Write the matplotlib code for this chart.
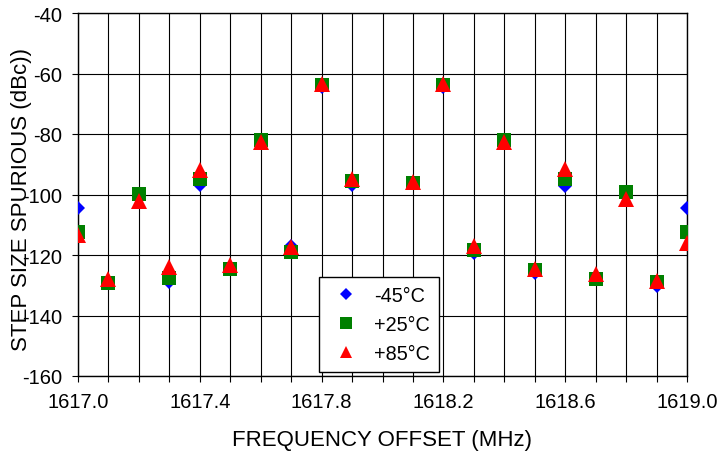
import matplotlib
matplotlib.use("Agg")
import matplotlib.pyplot as plt
from matplotlib.ticker import FixedLocator, MultipleLocator, FormatStrFormatter

plt.rcParams['font.family'] = ['Liberation Sans', 'DejaVu Sans']
plt.rcParams['axes.unicode_minus'] = False

freq = [1617.0, 1617.1, 1617.2, 1617.3, 1617.4, 1617.5, 1617.6, 1617.7, 1617.8, 1617.9,
        1618.1, 1618.2, 1618.3, 1618.4, 1618.5, 1618.6, 1618.7, 1618.8, 1618.9, 1619.0]
t_m45 = [-104.5, -129.0, -100.0, -129.0, -97.0, -124.5, -82.0, -117.0, -64.5, -97.0,
         -96.2, -64.5, -119.4, -82.0, -126.0, -97.2, -128.0, -99.3, -130.3, -104.5]
t_p25 = [-112.5, -129.3, -99.8, -127.6, -95.0, -124.6, -82.0, -119.0, -63.7, -95.5,
         -96.2, -63.7, -118.2, -81.9, -124.9, -94.9, -128.0, -99.3, -129.0, -112.5]
t_p85 = [-113.3, -128.0, -102.0, -124.0, -92.0, -123.3, -82.5, -117.5, -63.5, -95.0,
         -95.8, -63.5, -117.0, -82.5, -124.5, -91.6, -126.3, -101.5, -128.6, -116.0]
labels = ['-45°C', '+25°C', '+85°C']
xticks = [1617.0, 1617.4, 1617.8, 1618.2, 1618.6, 1619.0]

fig = plt.figure(figsize=(7.18, 4.52), dpi=100)
ax = fig.add_axes([78/718, 1-377/452, (687-78)/718, (377-14)/452])

ax.plot(freq, t_m45, linestyle='none', marker='D', ms=7.4, color='#0000FF', mew=0, label=labels[0], zorder=3)
ax.plot(freq, t_p25, linestyle='none', marker='s', ms=10.6, color='#008000', mew=0, label=labels[1], zorder=4)
ax.plot(freq, t_p85, linestyle='none', marker='^', ms=11.0, color='#FF0000', mew=0, label=labels[2], zorder=5)

ax.set_xlim(1617.0, 1619.0)
ax.set_ylim(-160, -40)
ax.xaxis.set_major_locator(FixedLocator(xticks))
ax.xaxis.set_minor_locator(MultipleLocator(0.1))
ax.xaxis.set_major_formatter(FormatStrFormatter('%.1f'))
ax.yaxis.set_major_locator(MultipleLocator(20))
ax.grid(True, which='both', axis='x', color='black', lw=0.8, zorder=1)
ax.grid(True, which='major', axis='y', color='black', lw=0.8, zorder=1)
ax.set_axisbelow(True)
ax.tick_params(which='both', direction='out', length=4.5, width=0.8, color='black',
               labelsize=14.5, pad=7)
for s in ax.spines.values():
    s.set_linewidth(1.0)
    s.set_color('black')

ax.set_xlabel('FREQUENCY OFFSET (MHz)', fontsize=16, labelpad=13)
ax.set_ylabel('STEP SIZE SPURIOUS (dBc))', fontsize=16)
ax.yaxis.set_label_coords(-46/609, 0.49)

leg = ax.legend(loc='lower left', bbox_to_anchor=(0.396, 0.011), borderaxespad=0,
                fontsize=14.3, frameon=True, fancybox=False, framealpha=1,
                edgecolor='black', labelspacing=0.5, borderpad=0.45,
                handlelength=1.8, handletextpad=0.5, markerscale=0.85)
leg.get_frame().set_linewidth(1.0)
leg.set_zorder(10)

fig.savefig('out.png', dpi=100)
